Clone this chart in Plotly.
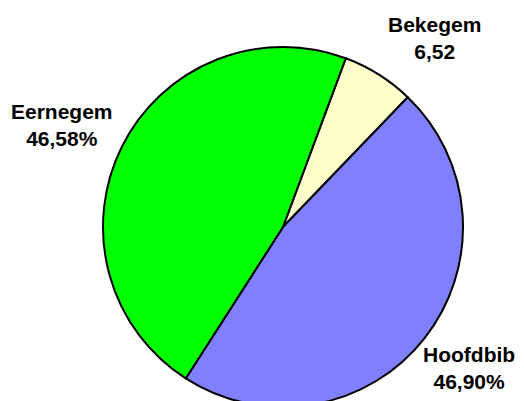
import plotly.graph_objects as go

labels = ["Bekegem", "Hoofdbib", "Eernegem"]
values = [6.52, 46.90, 46.58]
value_texts = ["6,52", "46,90%", "46,58%"]
colours = ["#FFFFCC", "#8080FF", "#00FF00"]

W, H = 524, 401
OFF = 8  # page body margin of the browser

# label centres in window pixels (x, y from top)
label_pos = [(434, 38), (469, 368), (62, 125)]
cx, cy, r = 283, 227, 180

fig = go.Figure(go.Pie(
    labels=labels,
    values=values,
    sort=False,
    direction="clockwise",
    rotation=20.4,
    marker=dict(colors=colours, line=dict(color="black", width=2)),
    textinfo="none",
    hoverinfo="label+percent",
    domain=dict(x=[(cx - OFF - r) / W, (cx - OFF + r) / W],
                y=[1 - (cy - OFF + r) / H, 1 - (cy - OFF - r) / H]),
    showlegend=False,
))

for lab, txt, (px, py) in zip(labels, value_texts, label_pos):
    fig.add_annotation(
        x=(px - OFF) / W, y=1 - (py - OFF) / H, xref="paper", yref="paper",
        text=f"<b>{lab}<br>{txt}</b>",
        showarrow=False, xanchor="center", yanchor="middle",
        font=dict(family="Liberation Sans, Arial", size=21, color="black"),
    )

fig.update_layout(
    width=W, height=H,
    margin=dict(l=0, r=0, t=0, b=0),
    paper_bgcolor="white",
    plot_bgcolor="white",
)

fig.write_html("out.html")
